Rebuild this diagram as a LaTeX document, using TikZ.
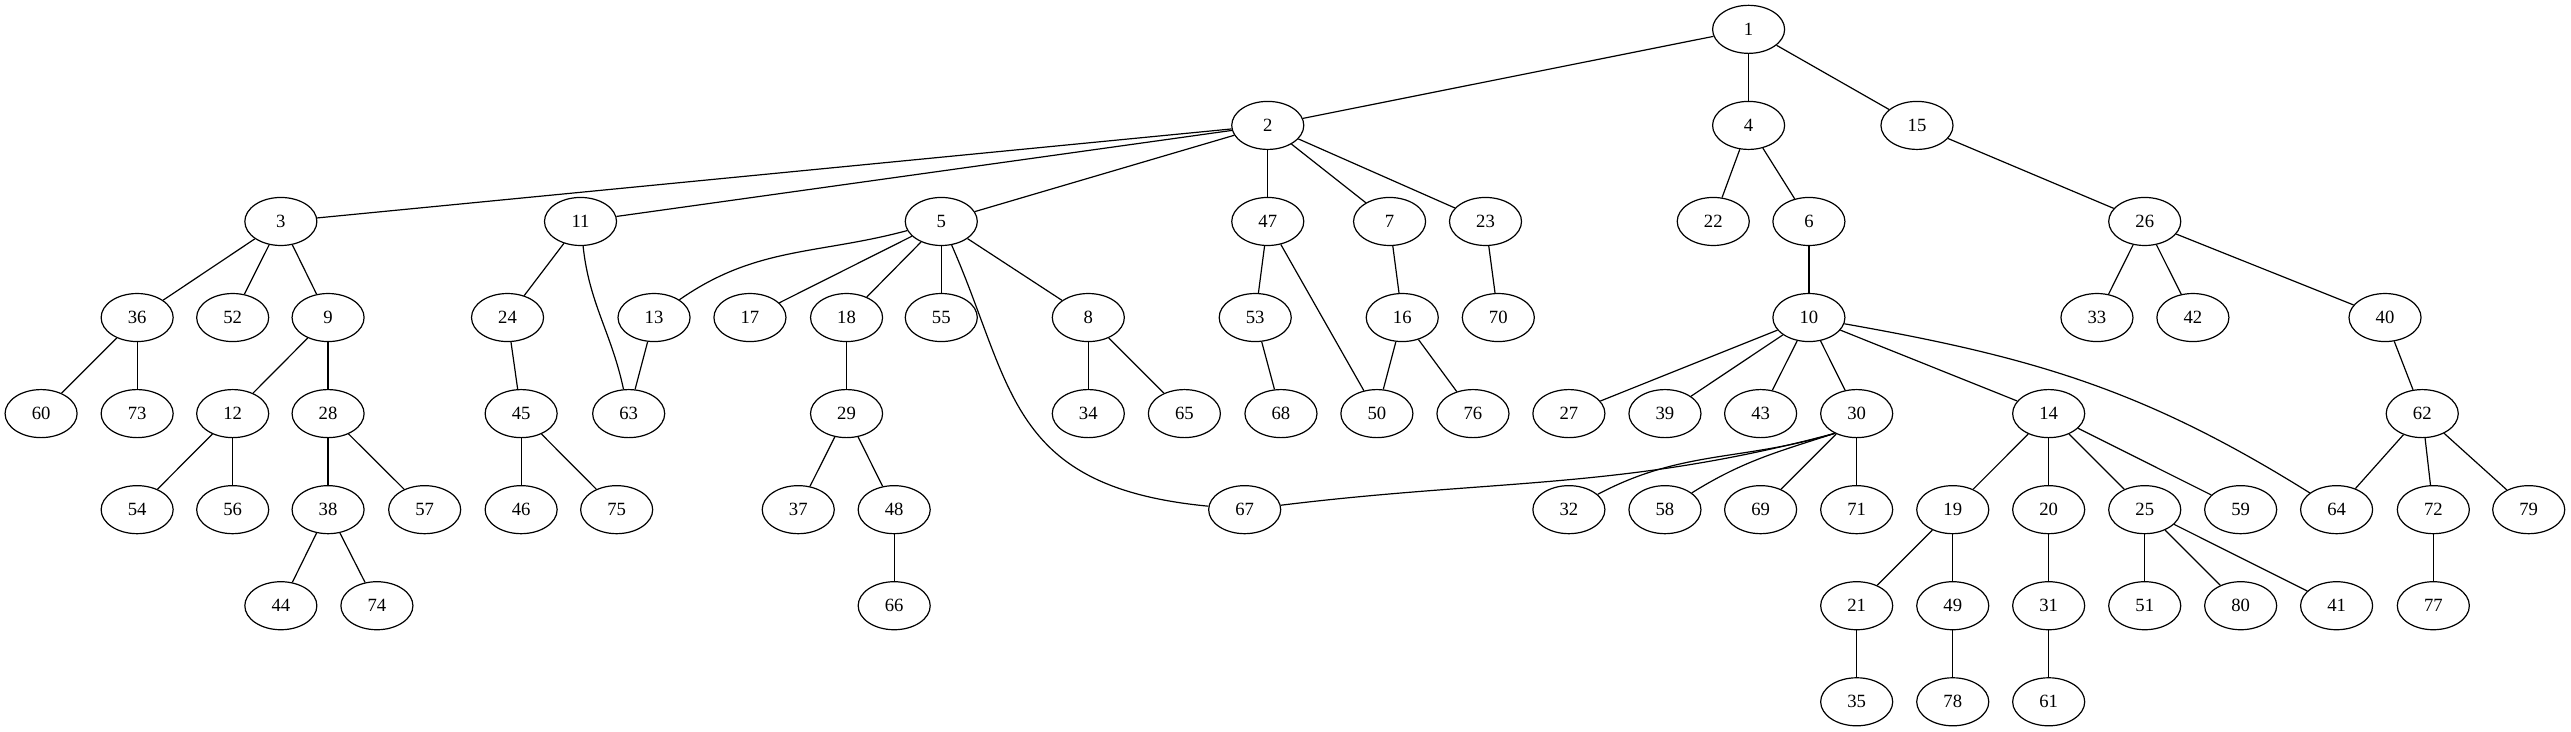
\documentclass[tikz,border=0pt]{standalone}
\usepackage{fontspec}
\setmainfont{Liberation Serif}
\usetikzlibrary{shapes.geometric}

\begin{document}
\begin{tikzpicture}[x=1pt, y=1pt, line width=0.9pt,
  vertex/.style={draw, ellipse, minimum width=54pt, minimum height=36pt, inner sep=0pt, font=\fontsize{14}{16}\selectfont}]
\useasboundingbox (0,0) rectangle (1927,-548);
\foreach \n/\x in {1/1310.6}
  \node[vertex] (n\n) at (\x,-22) {\n};
\foreach \n/\x in {2/950.2, 4/1310.6, 15/1436.8}
  \node[vertex] (n\n) at (\x,-94) {\n};
\foreach \n/\x in {3/210.5, 11/435.1, 5/705.5, 47/950.2, 7/1041.5, 23/1113.4, 22/1284.1, 6/1355.8, 26/1607.5}
  \node[vertex] (n\n) at (\x,-166) {\n};
\foreach \n/\x in {36/102.8, 52/174.4, 9/245.9, 24/380.4, 13/490.2, 17/562.1, 18/634.5, 55/705.5, 8/815.7, 53/940.8, 16/1051, 70/1123, 10/1355.8, 33/1571.7, 42/1643.6, 40/1787.6}
  \node[vertex] (n\n) at (\x,-238) {\n};
\foreach \n/\x in {60/30.8, 73/102.8, 12/174.4, 28/245.9, 45/390.6, 63/471.2, 29/634.5, 34/815.7, 65/887.7, 68/960.1, 50/1032, 76/1104, 27/1175.9, 39/1247.9, 43/1319.6, 30/1391.6, 14/1535.5, 62/1815.5}
  \node[vertex] (n\n) at (\x,-310) {\n};
\foreach \n/\x in {54/102.8, 56/174.4, 38/245.9, 57/318.3, 46/390.6, 75/462.2, 37/598.3, 48/670.2, 67/932.9, 32/1175.9, 58/1247.9, 69/1319.6, 71/1391.6, 19/1463.6, 20/1535.5, 25/1607.5, 59/1679.4, 64/1751.3, 72/1823.8, 79/1895.3}
  \node[vertex] (n\n) at (\x,-382) {\n};
\foreach \n/\x in {44/210.5, 74/282.5, 66/670.2, 21/1391.6, 49/1463.6, 31/1535.5, 51/1607.5, 80/1679.4, 41/1751.3, 77/1823.8}
  \node[vertex] (n\n) at (\x,-454) {\n};
\foreach \n/\x in {35/1391.6, 78/1463.6, 61/1535.5}
  \node[vertex] (n\n) at (\x,-526) {\n};

\foreach \a/\b in {1/2, 1/4, 1/15, 2/3, 2/11, 2/5, 2/47, 2/7, 2/23, 4/22, 4/6, 15/26,
  3/36, 3/52, 3/9, 11/24, 5/17, 5/18, 5/55, 5/8, 47/53, 47/50, 7/16, 23/70, 6/10,
  26/33, 26/42, 26/40, 36/60, 36/73, 9/12, 9/28, 24/45, 13/63, 18/29, 8/34, 8/65,
  53/68, 16/50, 16/76, 10/27, 10/39, 10/43, 10/30, 10/14, 40/62, 12/54, 12/56,
  28/38, 28/57, 45/46, 45/75, 29/37, 29/48, 30/69, 30/71, 14/19, 14/20,
  14/25, 14/59, 62/64, 62/72, 62/79, 38/44, 38/74, 48/66, 19/21, 19/49, 20/31,
  25/51, 25/80, 25/41, 72/77, 21/35, 49/78, 31/61}
  \draw (n\a) -- (n\b);
\draw (n5) .. controls (760,-290) and (755,-365) .. (n67);
\draw (n5) to[out=195, in=35] (n13);
\draw (n11) to[out=-84, in=102] (n63);
\draw (n10) to[out=-10, in=148] (n64);
\draw (n30.222) to[out=195, in=7] (n67);
\draw (n30.222) to[out=197, in=28] (n32);
\draw (n30.222) to[out=198, in=32] (n58);
\end{tikzpicture}
\end{document}
